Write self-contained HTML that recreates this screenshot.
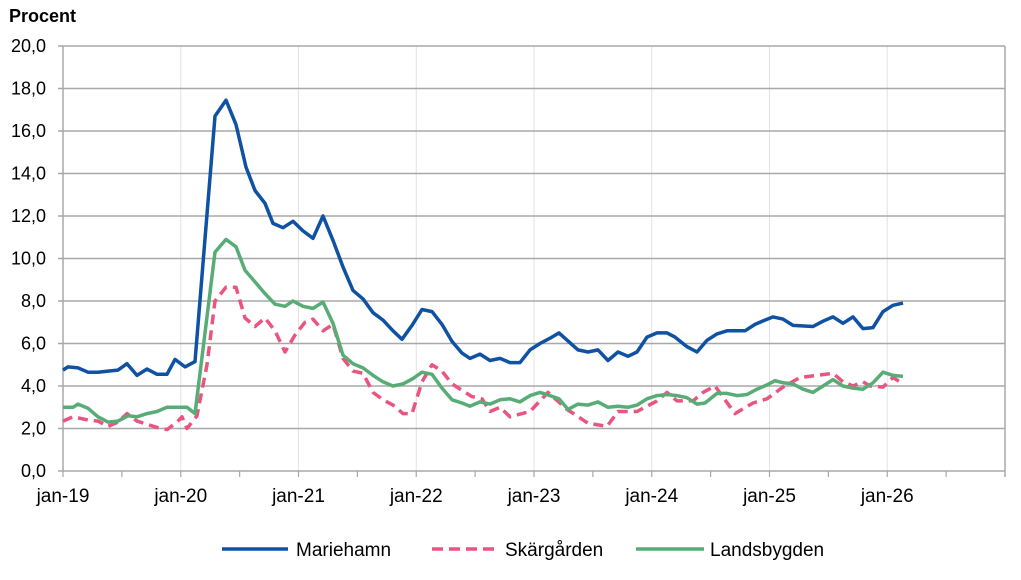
<!DOCTYPE html>
<html><head><meta charset="utf-8"><style>
body{margin:0;background:#fff;}
svg{display:block;font-family:"Liberation Sans",sans-serif;}
</style></head><body>
<svg id="s" width="1021" height="580" xmlns="http://www.w3.org/2000/svg">
<text x="9" y="22" font-size="18" font-weight="bold" fill="#000">Procent</text>
<g id="grid"></g>
<g id="series"></g>
<g font-size="19" fill="#000">
<line x1="222" y1="549" x2="288" y2="549" stroke="#0f52a3" stroke-width="3.5"/>
<text x="296" y="556">Mariehamn</text>
<line x1="432" y1="549" x2="498" y2="549" stroke="#ea5580" stroke-width="3.5" stroke-dasharray="11,6"/>
<text x="505" y="556">Skärgården</text>
<line x1="636" y1="549" x2="704" y2="549" stroke="#58ad76" stroke-width="3.5"/>
<text x="710" y="556">Landsbygden</text>
</g>
</svg>
<script>
const NS="http://www.w3.org/2000/svg";
const g=document.getElementById('grid'),sr=document.getElementById('series');
function el(p,t,a,txt){const e=document.createElementNS(NS,t);for(const k in a)e.setAttribute(k,a[k]);if(txt!==undefined)e.textContent=txt;p.appendChild(e);return e;}
const X0=63,X1=1005,Y0=471,S=21.25;
const years=['jan-19','jan-20','jan-21','jan-22','jan-23','jan-24','jan-25','jan-26'];
const yw=(X1-X0)/8;
for(let i=1;i<=8;i++){el(g,'line',{x1:X0+i*yw,y1:46,x2:X0+i*yw,y2:Y0,stroke:'#e3e3e3','stroke-width':1});}
for(let v=0;v<=20;v+=2){const y=Y0-v*S;el(g,'line',{x1:X0-5,y1:y,x2:X1,y2:y,stroke:'#a8a8a8','stroke-width':1.5});
el(g,'text',{x:46,y:y+6,'font-size':18,'text-anchor':'end',fill:'#000'},v.toFixed(1).replace('.',','));}
el(g,'line',{x1:X0,y1:46,x2:X0,y2:Y0,stroke:'#a8a8a8','stroke-width':1.5});
el(g,'line',{x1:X1,y1:46,x2:X1,y2:Y0+6,stroke:'#a8a8a8','stroke-width':1.5});
for(let i=0;i<16;i++){const x=X0+i*yw/2;el(g,'line',{x1:x,y1:Y0,x2:x,y2:Y0+6,stroke:'#a8a8a8','stroke-width':1.2});}
years.forEach((t,i)=>el(g,'text',{x:X0+i*yw,y:502,'font-size':19,'text-anchor':'middle',fill:'#000'},t));
const blue=[[63,4.75],[68,4.9],[78,4.85],[88,4.65],[98,4.65],[108,4.7],[118,4.75],[127,5.05],[137,4.5],[147,4.8],[157,4.55],[167,4.55],[175,5.25],[185,4.9],[195,5.15],[215,16.7],[226,17.45],[236,16.3],[246,14.3],[255,13.2],[265,12.6],[273,11.65],[283,11.45],[293,11.75],[303,11.3],[313,10.95],[323,12.0],[333,10.85],[343,9.6],[353,8.5],[363,8.1],[373,7.45],[383,7.1],[393,6.6],[402,6.2],[412,6.85],[422,7.6],[432,7.5],[442,6.9],[452,6.1],[462,5.55],[470,5.3],[480,5.5],[490,5.2],[500,5.3],[510,5.1],[520,5.1],[530,5.7],[540,6.0],[550,6.25],[559,6.5],[578,5.7],[588,5.6],[598,5.7],[608,5.2],[618,5.6],[628,5.4],[637,5.6],[647,6.3],[657,6.5],[667,6.5],[675,6.3],[687,5.85],[697,5.6],[707,6.15],[717,6.45],[727,6.6],[745,6.6],[755,6.9],[765,7.1],[773,7.25],[783,7.15],[793,6.85],[813,6.8],[823,7.05],[833,7.25],[843,6.95],[853,7.25],[863,6.7],[873,6.75],[883,7.5],[893,7.8],[903,7.9]];
const pink=[[63,2.35],[73,2.55],[88,2.4],[98,2.35],[108,2.1],[118,2.3],[127,2.7],[137,2.35],[147,2.2],[157,2.05],[167,1.95],[177,2.3],[182,2.55],[187,2.0],[197,2.6],[207,5.0],[215,8.0],[226,8.65],[236,8.65],[245,7.2],[255,6.8],[265,7.2],[275,6.6],[285,5.6],[295,6.4],[305,7.0],[313,7.15],[323,6.6],[333,6.9],[343,5.3],[353,4.7],[363,4.6],[373,3.7],[383,3.35],[393,3.1],[403,2.7],[412,2.7],[422,4.2],[432,5.0],[442,4.7],[452,4.1],[462,3.8],[472,3.5],[482,3.4],[490,2.8],[500,3.0],[510,2.55],[530,2.8],[548,3.7],[567,2.9],[588,2.25],[607,2.1],[618,2.8],[637,2.8],[657,3.3],[667,3.7],[677,3.3],[693,3.3],[703,3.7],[715,4.0],[735,2.7],[753,3.2],[767,3.4],[783,3.95],[800,4.4],[833,4.6],[843,4.2],[853,4.0],[863,4.2],[870,4.0],[883,3.95],[893,4.4],[903,4.1]];
const green=[[63,3.0],[73,3.0],[78,3.15],[88,2.95],[98,2.55],[108,2.3],[118,2.35],[128,2.6],[137,2.55],[147,2.7],[157,2.8],[167,3.0],[177,3.0],[187,3.0],[195,2.7],[215,10.3],[226,10.9],[236,10.55],[245,9.45],[255,8.9],[265,8.35],[275,7.85],[285,7.75],[293,8.0],[303,7.75],[313,7.65],[323,7.95],[333,6.95],[343,5.45],[353,5.05],[363,4.85],[373,4.5],[383,4.2],[393,4.0],[403,4.1],[413,4.35],[422,4.65],[432,4.55],[442,3.9],[452,3.35],[462,3.2],[470,3.05],[480,3.25],[490,3.15],[500,3.35],[510,3.4],[520,3.25],[530,3.55],[540,3.7],[550,3.55],[559,3.4],[568,2.9],[578,3.15],[588,3.1],[598,3.25],[608,3.0],[618,3.05],[628,3.0],[637,3.1],[647,3.4],[657,3.55],[667,3.6],[677,3.55],[687,3.45],[697,3.15],[705,3.2],[717,3.65],[727,3.65],[737,3.55],[747,3.6],[757,3.85],[767,4.05],[775,4.25],[783,4.15],[793,4.1],[803,3.85],[813,3.7],[823,4.0],[833,4.3],[843,4.0],[853,3.9],[863,3.85],[873,4.15],[883,4.65],[893,4.5],[903,4.45]];
function line(d,c,dash){const a={points:d.map(p=>p[0]+','+(Y0-p[1]*S).toFixed(1)).join(' '),fill:'none',stroke:c,'stroke-width':3.5,'stroke-linejoin':'round'};if(dash)a['stroke-dasharray']=dash;el(sr,'polyline',a);}
line(pink,'#ea5580','10,6');line(green,'#58ad76');line(blue,'#0f52a3');
</script>
</body></html>
